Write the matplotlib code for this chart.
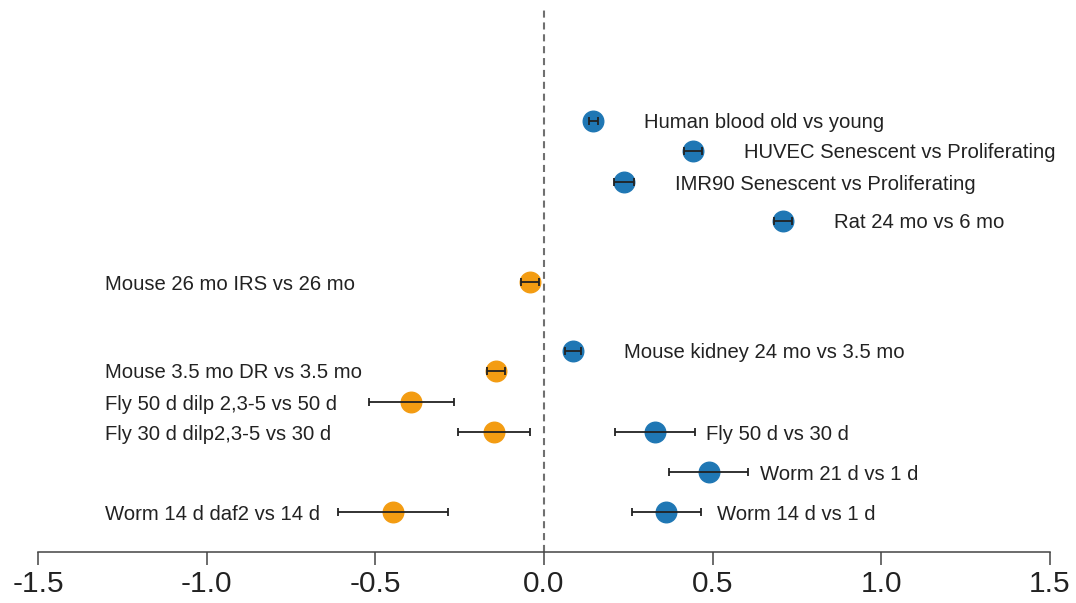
import matplotlib
matplotlib.use("Agg")
import matplotlib.pyplot as plt

# Effect estimates (log fold change) with half-width of the interval
labels = [
    "Human blood old vs young",
    "HUVEC Senescent vs Proliferating",
    "IMR90 Senescent vs Proliferating",
    "Rat 24 mo vs 6 mo",
    "Mouse 26 mo IRS vs 26 mo",
    "Mouse kidney 24 mo vs 3.5 mo",
    "Mouse 3.5 mo DR vs 3.5 mo",
    "Fly 50 d dilp 2,3-5 vs 50 d",
    "Fly 30 d dilp2,3-5 vs 30 d",
    "Fly 50 d vs 30 d",
    "Worm 21 d vs 1 d",
    "Worm 14 d daf2 vs 14 d",
    "Worm 14 d vs 1 d",
]
estimates = [0.146, 0.441, 0.238, 0.709, -0.042, 0.086, -0.142,
             -0.394, -0.148, 0.329, 0.489, -0.448, 0.362]
errors = [0.013, 0.027, 0.030, 0.026, 0.026, 0.025, 0.027,
          0.126, 0.107, 0.120, 0.117, 0.162, 0.102]
# vertical row position of each comparison (top = small)
rows = [12.1, 15.1, 18.2, 22.1, 28.2, 35.1, 37.1, 40.2, 43.2, 43.2, 47.2, 51.2, 51.2]
xticks = [-1.5, -1.0, -0.5, 0.0, 0.5, 1.0, 1.5]

BLUE = "#1f77b4"
ORANGE = "#f39c12"
TEXT = "#222222"

plt.rcParams["font.family"] = ["Liberation Sans", "DejaVu Sans"]

fig = plt.figure(figsize=(10.76, 6.03), dpi=100)
ax = fig.add_axes([38 / 1076, 1 - 552 / 603, (1050 - 38) / 1076, (552 - 10) / 603])
ax.set_xlim(-1.5, 1.5)
ax.set_ylim(55.2, 1.0)

ax.axvline(0, color="#707070", lw=1.5, dashes=(3.4, 2.3), zorder=1)

for lab, est, err, row in zip(labels, estimates, errors, rows):
    color = BLUE if est > 0 else ORANGE
    ax.plot(est, row, "o", ms=14.8, color=color, mec=color, zorder=3, clip_on=False)
    ax.errorbar(est, row, xerr=err, fmt="none", ecolor="#222222", elinewidth=1.3,
                capsize=3, capthick=1.3, zorder=4)
    x_text = est + 0.151 if est > 0 else -1.30
    ax.text(x_text, row, lab, ha="left", va="center_baseline", fontsize=14.6, color=TEXT)

for side in ("top", "right", "left"):
    ax.spines[side].set_visible(False)
ax.spines["bottom"].set_bounds(-1.5, 1.5)
ax.spines["bottom"].set_color("#444444")
ax.spines["bottom"].set_linewidth(1.1)
ax.set_yticks([])
ax.set_xticks(xticks)
ax.set_xticklabels([f"{t:.1f}" for t in xticks])
ax.tick_params(axis="x", length=9, width=1.1, color="#444444", labelsize=21.5,
               labelcolor=TEXT, pad=4)

fig.savefig("out.png", dpi=100)
